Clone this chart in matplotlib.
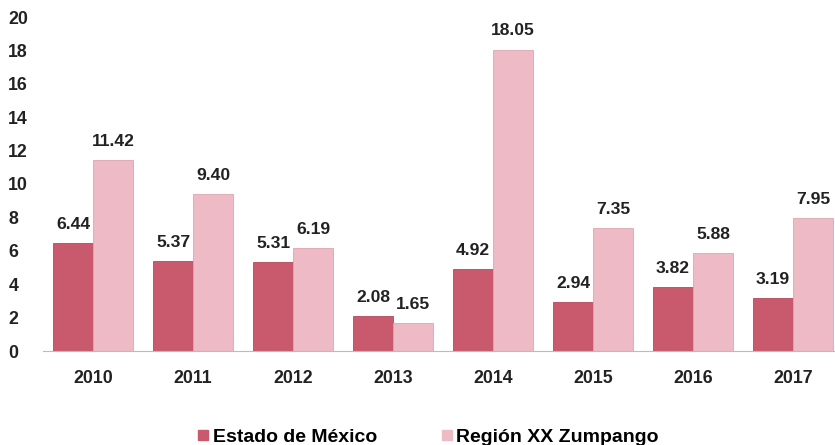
import numpy as np
import matplotlib.pyplot as plt
from matplotlib.lines import Line2D

years = ["2010", "2011", "2012", "2013", "2014", "2015", "2016", "2017"]
edomex = [6.44, 5.37, 5.31, 2.08, 4.92, 2.94, 3.82, 3.19]
zumpango = [11.42, 9.40, 6.19, 1.65, 18.05, 7.35, 5.88, 7.95]

dark = "#C9596D"
light = "#EDBAC5"

plt.rcParams['font.family'] = ['Liberation Sans', 'DejaVu Sans']
plt.rcParams['font.weight'] = 'bold'

fig = plt.figure(figsize=(8.35, 4.45), dpi=100)
ax = fig.add_axes([43 / 835, 1 - 351 / 445, 1 - 43 / 835, (351 - 17) / 445])

x = np.arange(len(years))
w = 0.4
b1 = ax.bar(x - w / 2, edomex, w, color=dark, edgecolor="#B24A5E", linewidth=0.6,
            label="Estado de México")
b2 = ax.bar(x + w / 2, zumpango, w, color=light, edgecolor="#DDA6B2", linewidth=0.6,
            label="Región XX Zumpango")

for bars, vals in ((b1, edomex), (b2, zumpango)):
    for r, v in zip(bars, vals):
        ax.annotate(f"{v:.2f}", (r.get_x() + r.get_width() / 2, v),
                    xytext=(0, 8), textcoords="offset points",
                    ha="center", va="bottom", fontsize=12.6, fontweight="bold",
                    color="#222222")

ax.set_ylim(0, 20)
ax.set_yticks(range(0, 21, 2))
ax.set_xlim(-0.5, 7.42)
ax.set_xticks(x)
ax.set_xticklabels(years)
ax.tick_params(axis="both", length=0, labelsize=12.8, colors="#222222")
ax.tick_params(axis="y", pad=25)
for lab in ax.get_yticklabels():
    lab.set_horizontalalignment("left")
ax.tick_params(axis="x", pad=14)
for s in ["top", "right", "left"]:
    ax.spines[s].set_visible(False)
ax.spines["bottom"].set_color("#BBBBBB")

handles = [Line2D([], [], marker="s", linestyle="none", markersize=7, color=dark),
           Line2D([], [], marker="s", linestyle="none", markersize=7, color=light)]
fig.legend(handles, ["Estado de México", "Región XX Zumpango"], loc="center",
           bbox_to_anchor=(427 / 835, 1 - 437 / 445), ncol=2, frameon=False,
           prop={"size": 14, "weight": "bold"}, handletextpad=0.1,
           columnspacing=3.2, handlelength=0.8)

fig.savefig("out.png", dpi=100)
